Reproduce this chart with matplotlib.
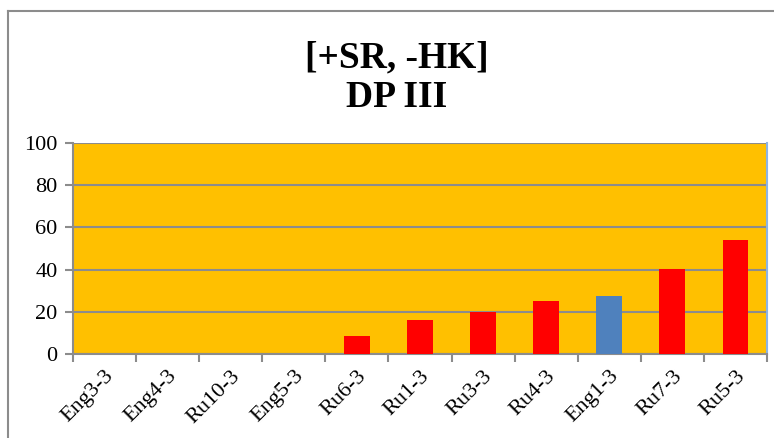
import matplotlib.pyplot as plt
from matplotlib.lines import Line2D

categories = ['Eng3-3', 'Eng4-3', 'Ru10-3', 'Eng5-3', 'Ru6-3', 'Ru1-3',
              'Ru3-3', 'Ru4-3', 'Eng1-3', 'Ru7-3', 'Ru5-3']
values = [0, 0, 0, 0, 8.6, 16.3, 20, 25, 27.3, 40.2, 54]
bar_colors = ['#FF0000'] * 8 + ['#4F81BD'] + ['#FF0000'] * 2

plt.rcParams['font.family'] = ['Liberation Serif', 'DejaVu Serif']

fig = plt.figure(figsize=(7.74, 4.38), dpi=100)
ax = fig.add_axes([73 / 774, 84 / 438, 694 / 774, 211 / 438])
ax.set_facecolor('#FFC000')

x = range(len(categories))
ax.bar(x, values, width=0.41, color=bar_colors, zorder=3)

ax.set_xlim(-0.5, len(categories) - 0.5)
ax.set_ylim(0, 100)
ax.set_yticks(range(0, 101, 20))
ax.yaxis.grid(True, color='#8C8C8C', linewidth=1.5, zorder=1)
ax.set_axisbelow(True)

# ticks between categories like Excel
ax.set_xticks([i - 0.5 for i in range(len(categories) + 1)], minor=False)
ax.set_xticklabels([])
ax.set_xticks(list(x), minor=True)
ax.set_xticklabels(categories, minor=True, rotation=45, ha='right',
                   va='top', rotation_mode='anchor', fontsize=16)
ax.tick_params(axis='x', which='minor', length=0, pad=9)
ax.tick_params(axis='x', which='major', length=6, color='#8C8C8C', width=1.5)
ax.tick_params(axis='y', length=6, color='#8C8C8C', width=1.5, labelsize=16,
               pad=5)

for side in ['left', 'bottom']:
    ax.spines[side].set_color('#8C8C8C')
    ax.spines[side].set_linewidth(1.5)
ax.spines['top'].set_visible(False)
ax.spines['right'].set_color('#8DB4E2')
ax.spines['right'].set_linewidth(1.5)

fig.text(397 / 774, 1 - 58 / 438, '[+SR, -HK]', ha='center', va='center',
         fontsize=27, fontweight='bold')
fig.text(397 / 774, 1 - 98 / 438, 'DP III', ha='center', va='center',
         fontsize=27, fontweight='bold')

# outer chart frame (top and left edge visible)
fig.add_artist(Line2D([8 / 774, 8 / 774], [0, 1 - 11 / 438],
                      color='#8C8C8C', linewidth=1.5))
fig.add_artist(Line2D([8 / 774, 1], [1 - 11 / 438, 1 - 11 / 438],
                      color='#8C8C8C', linewidth=1.5))

fig.savefig('out.png', dpi=100)
